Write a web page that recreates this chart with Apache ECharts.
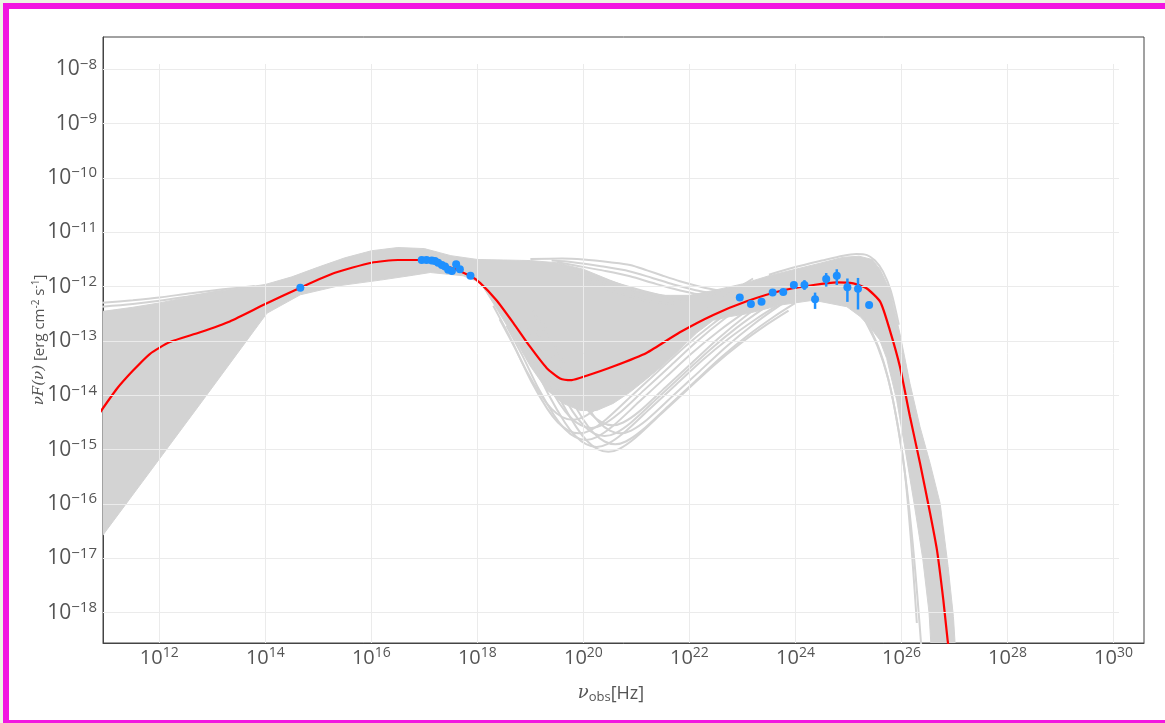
<!DOCTYPE html>
<html>
<head>
<meta charset="utf-8">
<script src="https://cdn.jsdelivr.net/npm/echarts@6/dist/echarts.min.js"></script>
<style>
  html, body { margin: 0; padding: 0; background: #ffffff; overflow: hidden; width: 1165px; height: 723px; }
  .edge { position: absolute; background: #f216e0; }
  #outer-top { position: absolute; left: 0; top: 0; width: 1165px; height: 3px; background: #edf5e4; }
  #outer-left { position: absolute; left: 0; top: 0; width: 3px; height: 723px; background: #edf5e4; }
  #edge-left { left: 3px; top: 3px; width: 6px; height: 720px; }
  #edge-top { left: 3px; top: 3px; width: 1162px; height: 6px; }
  #edge-bottom { left: 3px; top: 720px; width: 1162px; height: 3px; }
  #chart { position: absolute; left: 0; top: 0; width: 1165px; height: 723px; }
</style>
</head>
<body>
<div id="outer-top"></div>
<div id="outer-left"></div>
<div class="edge" id="edge-left"></div>
<div class="edge" id="edge-top"></div>
<div class="edge" id="edge-bottom"></div>
<div id="chart"></div>
<script>
// All values are log10: frequency in Hz, νF(ν) in erg cm^-2 s^-1.

// Decade ticks
const xTickExp = [12, 14, 16, 18, 20, 22, 24, 26, 28, 30];
const yTickExp = [-18, -17, -16, -15, -14, -13, -12, -11, -10, -9, -8];

// Best-fit SED model
const fitLogNu   = [10.85, 11.2, 11.5, 11.82, 12.2, 12.77, 13.33, 14.0, 14.66, 15.3, 16.0, 16.5, 16.95, 17.42, 17.86, 18.05, 18.36, 18.68, 18.99, 19.31, 19.56, 19.78, 20.06, 20.56, 21.19, 21.82, 22.45, 23.08, 23.71, 24.34, 24.78, 25.09, 25.34, 25.6, 25.78, 25.97, 26.16, 26.35, 26.54, 26.67, 26.79, 26.87, 26.93];
const fitLogFlux = [-14.36, -13.88, -13.55, -13.24, -13.02, -12.84, -12.64, -12.32, -12.02, -11.75, -11.56, -11.51, -11.51, -11.62, -11.80, -11.93, -12.25, -12.67, -13.10, -13.50, -13.69, -13.72, -13.64, -13.47, -13.22, -12.84, -12.52, -12.27, -12.08, -11.97, -11.92, -11.94, -12.03, -12.28, -12.80, -13.47, -14.39, -15.25, -16.17, -16.85, -17.77, -18.50, -18.95];

// Observed fluxes
const optLogNu   = [14.66];
const optLogFlux = [-12.02];
const xrayLogNu   = [16.95, 17.04, 17.14, 17.20, 17.26, 17.33, 17.39, 17.45, 17.52, 17.60, 17.67, 17.87];
const xrayLogFlux = [-11.51, -11.51, -11.52, -11.53, -11.56, -11.60, -11.63, -11.69, -11.71, -11.59, -11.68, -11.80];
const gammaLogNu   = [22.95, 23.16, 23.36, 23.57, 23.77, 23.97, 24.17, 24.37, 24.58, 24.78, 24.98, 25.18, 25.39];
const gammaLogFlux = [-12.20, -12.32, -12.28, -12.11, -12.10, -11.97, -11.97, -12.23, -11.86, -11.80, -12.01, -12.04, -12.34];
const gammaErrLow  = [null, null, null, null, null, null, -12.06, -12.41, -12.00, -11.97, -12.28, -12.42, null];
const gammaErrHigh = [null, null, null, null, null, null, -11.88, -12.11, -11.75, -11.68, -11.85, -11.84, null];

// Envelope of the posterior model curves (dense core), upper edge left to right
const bandUpper = [[10.90,-12.46],[11.5,-12.38],[12.0,-12.30],[12.5,-12.20],[13.0,-12.10],[13.5,-12.03],[14.0,-11.96],[14.5,-11.82],[15.0,-11.64],[15.5,-11.47],[16.0,-11.34],[16.5,-11.28],[17.0,-11.30],[17.5,-11.43],[18.0,-11.50],[18.5,-11.51],[19.0,-11.52],[19.5,-11.56],[20.0,-11.68],[20.5,-11.88],[21.0,-12.06],[21.5,-12.16],[22.0,-12.16],[22.5,-12.06],[23.0,-11.95],[23.5,-11.80],[24.0,-11.68],[24.5,-11.56],[24.9,-11.46],[25.2,-11.44],[25.45,-11.50],[25.6,-11.69],[25.78,-12.06],[25.97,-12.86],[26.16,-13.78],[26.35,-14.58],[26.54,-15.25],[26.73,-15.99],[26.88,-17.15],[26.98,-18.07],[27.04,-19.0]];
// lower edge, right to left
const bandLower = [[26.58,-19.0],[26.52,-18.0],[26.40,-17.0],[26.24,-16.0],[26.07,-15.0],[25.91,-14.09],[25.72,-13.32],[25.59,-12.98],[25.40,-12.74],[25.22,-12.55],[24.97,-12.37],[24.34,-12.25],[23.71,-12.34],[23.4,-12.42],[23.08,-12.50],[22.77,-12.55],[22.45,-12.62],[22.14,-12.85],[21.82,-13.15],[21.5,-13.45],[21.19,-13.70],[20.87,-13.95],[20.56,-14.15],[20.25,-14.28],[19.94,-14.28],[19.62,-14.15],[19.31,-13.90],[18.99,-13.45],[18.67,-12.90],[18.36,-12.40],[18.05,-11.92],[17.73,-11.80],[17.11,-11.74],[16.79,-11.79],[16.17,-11.88],[15.41,-11.98],[14.66,-12.15],[14.03,-12.49],[12.77,-14.16],[11.82,-15.41],[10.90,-16.62]];

// Individual model curves that stand out of the dense core
const lowFreqCurves = [
  [[10.90,-12.30],[11.5,-12.25],[12.0,-12.20],[12.6,-12.12],[13.2,-12.05],[13.8,-11.99]],
  [[10.90,-12.37],[11.5,-12.32],[12.0,-12.26],[12.6,-12.17],[13.2,-12.08]]
];
const highSyncCurves = [
  [[19.0,-11.49],[19.6,-11.48],[20.0,-11.50],[20.5,-11.55],[20.88,-11.60],[21.2,-11.70],[21.5,-11.80],[21.82,-11.90],[22.2,-12.00],[22.5,-12.06],[22.9,-12.08],[23.3,-12.00]],
  [[19.4,-11.52],[19.8,-11.55],[20.3,-11.62],[20.88,-11.72],[21.3,-11.84],[21.7,-11.96],[22.1,-12.06],[22.5,-12.12],[22.9,-12.12]],
  [[19.5,-11.55],[19.9,-11.62],[20.4,-11.71],[20.88,-11.81],[21.3,-11.93],[21.7,-12.04],[22.1,-12.13],[22.5,-12.18]],
  [[19.6,-11.60],[20.0,-11.75],[20.5,-11.90],[20.88,-12.01],[21.3,-12.12],[21.7,-12.20],[22.1,-12.24]],
  [[19.7,-11.68],[20.1,-11.85],[20.5,-11.98],[20.88,-12.09],[21.3,-12.18],[21.7,-12.26],[22.1,-12.28]],
  [[19.8,-11.75],[20.2,-11.95],[20.55,-12.08],[20.88,-12.18],[21.3,-12.28],[21.7,-12.32]]
];
const dipCurves = [
  [[18.97,-12.94],[19.27,-13.49],[19.57,-14.09],[19.87,-14.59],[20.07,-14.84],[20.27,-14.99],[20.47,-15.04],[20.67,-14.99],[20.97,-14.79],[21.47,-14.34],[21.97,-13.89],[22.47,-13.44],[22.97,-13.04],[23.47,-12.69],[23.87,-12.44]],
  [[18.75,-12.85],[19.05,-13.40],[19.35,-14.00],[19.65,-14.50],[19.85,-14.75],[20.05,-14.90],[20.25,-14.95],[20.45,-14.90],[20.75,-14.70],[21.25,-14.25],[21.75,-13.80],[22.25,-13.35],[22.75,-12.95],[23.25,-12.60],[23.65,-12.35]],
  [[19.10,-12.80],[19.40,-13.35],[19.70,-13.95],[20.00,-14.45],[20.20,-14.70],[20.40,-14.85],[20.60,-14.90],[20.80,-14.85],[21.10,-14.65],[21.60,-14.20],[22.10,-13.75],[22.60,-13.30],[23.10,-12.90],[23.60,-12.55],[24.00,-12.30]],
  [[18.55,-12.72],[18.85,-13.27],[19.15,-13.87],[19.45,-14.37],[19.65,-14.62],[19.85,-14.77],[20.05,-14.82],[20.25,-14.77],[20.55,-14.57],[21.05,-14.12],[21.55,-13.67],[22.05,-13.22],[22.55,-12.82],[23.05,-12.47],[23.45,-12.22]],
  [[18.42,-12.60],[18.72,-13.15],[19.02,-13.75],[19.32,-14.25],[19.52,-14.50],[19.72,-14.65],[19.92,-14.70],[20.12,-14.65],[20.42,-14.45],[20.92,-14.00],[21.42,-13.55],[21.92,-13.10],[22.42,-12.70],[22.92,-12.35],[23.32,-12.10]],
  [[18.90,-12.65],[19.20,-13.20],[19.50,-13.80],[19.80,-14.30],[20.00,-14.55],[20.20,-14.70],[20.40,-14.75],[20.60,-14.70],[20.90,-14.50],[21.40,-14.05],[21.90,-13.60],[22.40,-13.15],[22.90,-12.75],[23.40,-12.40],[23.80,-12.15]],
  [[19.20,-12.60],[19.50,-13.15],[19.80,-13.75],[20.10,-14.25],[20.30,-14.50],[20.50,-14.65],[20.70,-14.70],[20.90,-14.65],[21.20,-14.45],[21.70,-14.00],[22.20,-13.55],[22.70,-13.10],[23.20,-12.70],[23.70,-12.35],[24.10,-12.10]],
  [[18.65,-12.50],[18.95,-13.05],[19.25,-13.65],[19.55,-14.15],[19.75,-14.40],[19.95,-14.55],[20.15,-14.60],[20.35,-14.55],[20.65,-14.35],[21.15,-13.90],[21.65,-13.45],[22.15,-13.00],[22.65,-12.60],[23.15,-12.25],[23.55,-12.00]],
  [[19.05,-12.45],[19.35,-13.00],[19.65,-13.60],[19.95,-14.10],[20.15,-14.35],[20.35,-14.50],[20.55,-14.55],[20.75,-14.50],[21.05,-14.30],[21.55,-13.85],[22.05,-13.40],[22.55,-12.95],[23.05,-12.55],[23.55,-12.20],[23.95,-11.95]],
  [[18.30,-12.35],[18.60,-12.90],[18.90,-13.50],[19.20,-14.00],[19.40,-14.25],[19.60,-14.40],[19.80,-14.45],[20.00,-14.40],[20.30,-14.20],[20.80,-13.75],[21.30,-13.30],[21.80,-12.85],[22.30,-12.45],[22.80,-12.10],[23.20,-11.85]]
];
const icTopCurves = [
  [[23.5,-11.78],[24.0,-11.64],[24.5,-11.52],[24.9,-11.43],[25.15,-11.40],[25.35,-11.42],[25.5,-11.52],[25.65,-11.72],[25.8,-12.08],[25.95,-12.70]]
];
const cutoffCurves = [
  [[25.30,-12.60],[25.55,-13.10],[25.75,-13.70],[25.92,-14.50],[26.05,-15.30],[26.14,-16.20],[26.22,-17.20],[26.29,-18.19]],
  [[25.35,-12.65],[25.60,-13.20],[25.80,-13.90],[25.97,-14.80],[26.10,-15.70],[26.21,-16.70],[26.30,-17.70],[26.38,-18.70]]
];

const GREY = '#d3d3d3', BLUE = '#1e90ff', RED = '#ff0000', TEXT = '#555555';
const FONT = 'Open Sans';

const zip = (xs, ys) => xs.map((x, i) => [x, ys[i]]);
const bandOutline = bandUpper.concat(bandLower);
const errBars = gammaLogNu
  .map((x, i) => [x, gammaErrLow[i], gammaErrHigh[i]])
  .filter(d => d[1] !== null);

// Axis ranges: frame spans 10^10.938..10^30.575 Hz and 10^-18.558..10^-7.406;
// the grid-line panel is a slightly smaller box sharing the same scale.
const X_MIN = 10.938, X_MAX = 30.575, X_GRID_MAX = 30.104;
const Y_MIN = -18.558, Y_MAX = -7.406, Y_GRID_MAX = -7.902;

const supRich = {
  b: { fontSize: 21, color: TEXT, fontFamily: FONT },
  s: { fontSize: 15, color: TEXT, fontFamily: FONT, padding: [0, 0, 10, 0] }
};
const supRichX = {
  b: { fontSize: 20, color: TEXT, fontFamily: FONT },
  s: { fontSize: 14, color: TEXT, fontFamily: FONT, padding: [0, 0, 10, 0] }
};

const curveSeries = (curves, z) => curves.map(c => ({
  type: 'line', xAxisIndex: 1, yAxisIndex: 1, data: c,
  symbol: 'none', smooth: 0.3, silent: true, z: z, clip: true,
  lineStyle: { color: GREY, width: 2 }
}));

const option = {
  animation: false,
  backgroundColor: 'transparent',
  grid: [
    { left: 103, top: 64, width: 1016, height: 579, show: false },
    { left: 103, top: 37, width: 1041, height: 606, show: true, borderColor: '#444', borderWidth: 1, backgroundColor: 'transparent' }
  ],
  xAxis: [
    {
      gridIndex: 0, type: 'value', min: X_MIN, max: X_GRID_MAX,
      axisLine: { show: false }, axisTick: { show: false }, axisLabel: { show: false }, splitLine: { show: false },
      name: '{nu|ν}{sub|obs}{t|[Hz]}', nameLocation: 'middle', nameGap: 40, nameMoveOverlap: false,
      nameTextStyle: {
        color: TEXT, fontFamily: FONT, fontSize: 18,
        rich: {
          nu: { fontFamily: 'DejaVu Serif', fontStyle: 'italic', fontSize: 18, color: TEXT },
          sub: { fontFamily: FONT, fontSize: 13, color: TEXT, padding: [8, 0, 0, 0] },
          t: { fontFamily: FONT, fontSize: 18, color: TEXT }
        }
      }
    },
    {
      gridIndex: 1, type: 'value', min: X_MIN, max: X_MAX,
      axisLine: { show: true, onZero: false, lineStyle: { color: '#444', width: 1 } },
      axisTick: { show: true, inside: true, length: 5, customValues: xTickExp, lineStyle: { color: '#444' } },
      axisLabel: {
        customValues: xTickExp, margin: 3, color: TEXT, fontFamily: FONT,
        formatter: v => '{b|10}{s|' + Math.round(v) + '}', rich: supRichX
      },
      splitLine: { show: false }
    }
  ],
  yAxis: [
    {
      gridIndex: 0, type: 'value', min: Y_MIN, max: Y_GRID_MAX, show: false
    },
    {
      gridIndex: 1, type: 'value', min: Y_MIN, max: Y_MAX,
      axisLine: { show: true, onZero: false, lineStyle: { color: '#444', width: 1 } },
      axisTick: { show: true, inside: true, length: 6, customValues: yTickExp, lineStyle: { color: '#444' } },
      axisLabel: {
        customValues: yTickExp, margin: 6, color: TEXT, fontFamily: FONT,
        formatter: v => '{b|10}{s|\u2212' + Math.round(-v) + '}', rich: supRich
      },
      splitLine: { show: false },
      name: '{it|νF(ν)} [erg cm{s|-2} s{s|-1}]', nameLocation: 'middle', nameRotate: 90, nameGap: 55,
      nameMoveOverlap: false,
      nameTextStyle: {
        color: TEXT, fontFamily: FONT, fontSize: 15,
        rich: {
          it: { fontFamily: 'DejaVu Serif', fontStyle: 'italic', fontSize: 15, color: TEXT },
          s: { fontFamily: FONT, fontSize: 10, color: TEXT, padding: [0, 0, 7, 0] }
        }
      }
    }
  ],
  series: [
    // grid lines at each labelled decade
    {
      type: 'line', xAxisIndex: 0, yAxisIndex: 0, data: [], silent: true, z: 0,
      markLine: {
        silent: true, symbol: 'none', animation: false,
        label: { show: false },
        lineStyle: { color: '#ebebeb', width: 1, type: 'solid' },
        emphasis: { disabled: true },
        data: xTickExp.map(v => ({ xAxis: v })).concat(yTickExp.map(v => ({ yAxis: v })))
      }
    },
    // dense core of the model curves
    {
      type: 'custom', xAxisIndex: 1, yAxisIndex: 1, data: [bandUpper[1]], silent: true, z: 1, clip: true,
      renderItem: (params, api) => {
        const cs = params.coordSys;
        return {
          type: 'polygon',
          shape: { points: bandOutline.map(p => api.coord(p)) },
          style: { fill: GREY, stroke: GREY, lineWidth: 1 },
          clipPath: { type: 'rect', shape: { x: cs.x, y: cs.y, width: cs.width, height: cs.height } }
        };
      }
    },
    ...curveSeries(lowFreqCurves, 2),
    ...curveSeries(highSyncCurves, 2),
    ...curveSeries(dipCurves, 2),
    ...curveSeries(icTopCurves, 2),
    ...curveSeries(cutoffCurves, 2),
    // best fit
    {
      type: 'line', xAxisIndex: 1, yAxisIndex: 1, data: zip(fitLogNu, fitLogFlux),
      symbol: 'none', smooth: 0.2, silent: true, z: 4, clip: true,
      lineStyle: { color: RED, width: 2.2 }
    },
    // gamma-ray error bars
    {
      type: 'custom', xAxisIndex: 1, yAxisIndex: 1, data: errBars, silent: true, z: 5,
      encode: { x: 0, y: [1, 2] },
      renderItem: (params, api) => {
        const lo = api.coord([api.value(0), api.value(1)]);
        const hi = api.coord([api.value(0), api.value(2)]);
        return { type: 'line', shape: { x1: lo[0], y1: lo[1], x2: hi[0], y2: hi[1] }, style: { stroke: BLUE, lineWidth: 2.5 } };
      }
    },
    // data points
    {
      type: 'scatter', xAxisIndex: 1, yAxisIndex: 1, silent: true, z: 6,
      data: zip(optLogNu, optLogFlux).concat(zip(xrayLogNu, xrayLogFlux), zip(gammaLogNu, gammaLogFlux)),
      symbolSize: 8, itemStyle: { color: BLUE, opacity: 1 }
    }
  ]
};

const chart = echarts.init(document.getElementById('chart'), null, { renderer: 'canvas' });
chart.setOption(option);
</script>
</body>
</html>
